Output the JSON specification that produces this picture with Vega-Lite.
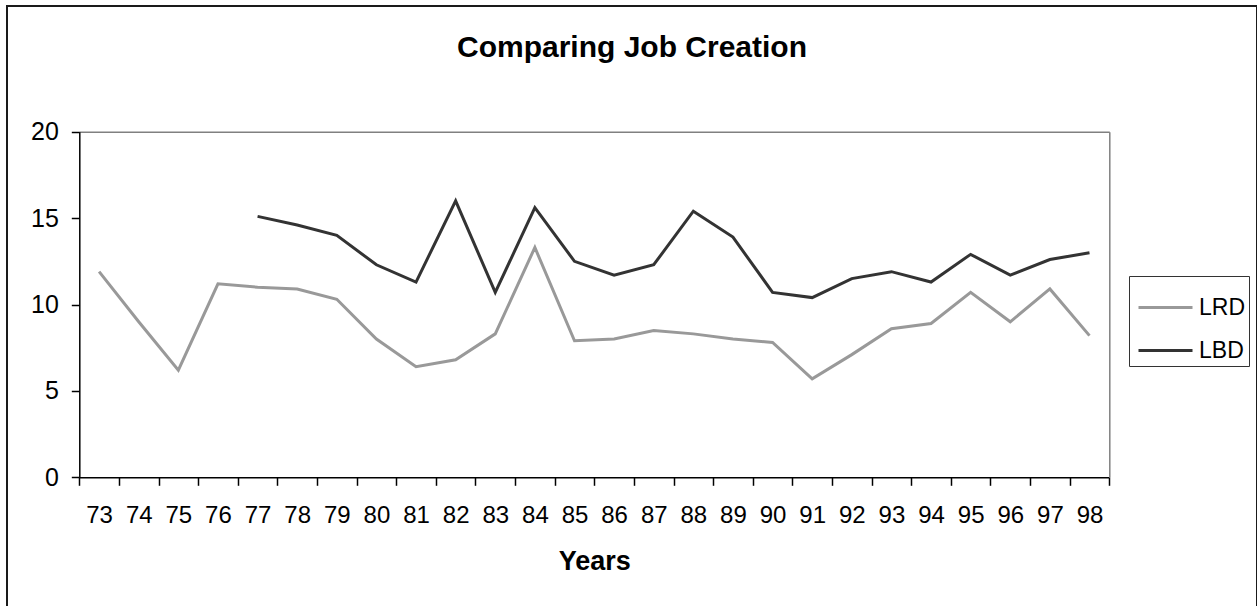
{
  "$schema": "https://vega.github.io/schema/vega-lite/v6.json",
  "autosize": "none",
  "padding": {"left": 7, "top": 6, "right": 0, "bottom": 0},
  "width": 1250,
  "height": 610,
  "background": "white",
  "title": {
    "text": "Comparing Job Creation",
    "font": "Liberation Sans",
    "fontSize": 30,
    "fontWeight": "bold",
    "color": "black",
    "anchor": "middle",
    "baseline": "alphabetic",
    "offset": -81
  },
  "data": {
    "values": [
      {"year": "73", "series": "LRD", "value": 11.9},
      {"year": "74", "series": "LRD", "value": 9.0},
      {"year": "75", "series": "LRD", "value": 6.2},
      {"year": "76", "series": "LRD", "value": 11.2},
      {"year": "77", "series": "LRD", "value": 11.0},
      {"year": "78", "series": "LRD", "value": 10.9},
      {"year": "79", "series": "LRD", "value": 10.3},
      {"year": "80", "series": "LRD", "value": 8.0},
      {"year": "81", "series": "LRD", "value": 6.4},
      {"year": "82", "series": "LRD", "value": 6.8},
      {"year": "83", "series": "LRD", "value": 8.3},
      {"year": "84", "series": "LRD", "value": 13.3},
      {"year": "85", "series": "LRD", "value": 7.9},
      {"year": "86", "series": "LRD", "value": 8.0},
      {"year": "87", "series": "LRD", "value": 8.5},
      {"year": "88", "series": "LRD", "value": 8.3},
      {"year": "89", "series": "LRD", "value": 8.0},
      {"year": "90", "series": "LRD", "value": 7.8},
      {"year": "91", "series": "LRD", "value": 5.7},
      {"year": "92", "series": "LRD", "value": 7.1},
      {"year": "93", "series": "LRD", "value": 8.6},
      {"year": "94", "series": "LRD", "value": 8.9},
      {"year": "95", "series": "LRD", "value": 10.7},
      {"year": "96", "series": "LRD", "value": 9.0},
      {"year": "97", "series": "LRD", "value": 10.9},
      {"year": "98", "series": "LRD", "value": 8.2},
      {"year": "77", "series": "LBD", "value": 15.1},
      {"year": "78", "series": "LBD", "value": 14.6},
      {"year": "79", "series": "LBD", "value": 14.0},
      {"year": "80", "series": "LBD", "value": 12.3},
      {"year": "81", "series": "LBD", "value": 11.3},
      {"year": "82", "series": "LBD", "value": 16.0},
      {"year": "83", "series": "LBD", "value": 10.7},
      {"year": "84", "series": "LBD", "value": 15.6},
      {"year": "85", "series": "LBD", "value": 12.5},
      {"year": "86", "series": "LBD", "value": 11.7},
      {"year": "87", "series": "LBD", "value": 12.3},
      {"year": "88", "series": "LBD", "value": 15.4},
      {"year": "89", "series": "LBD", "value": 13.9},
      {"year": "90", "series": "LBD", "value": 10.7},
      {"year": "91", "series": "LBD", "value": 10.4},
      {"year": "92", "series": "LBD", "value": 11.5},
      {"year": "93", "series": "LBD", "value": 11.9},
      {"year": "94", "series": "LBD", "value": 11.3},
      {"year": "95", "series": "LBD", "value": 12.9},
      {"year": "96", "series": "LBD", "value": 11.7},
      {"year": "97", "series": "LBD", "value": 12.6},
      {"year": "98", "series": "LBD", "value": 13.0}
    ]
  },
  "layer": [
    {
      "transform": [{"filter": "datum.series === 'LRD'"}],
      "mark": {"type": "line", "strokeWidth": 3},
      "encoding": {
        "x": {
          "field": "year",
          "type": "ordinal",
          "scale": {
            "type": "band",
            "domain": ["73","74","75","76","77","78","79","80","81","82","83","84","85","86","87","88","89","90","91","92","93","94","95","96","97","98"],
            "range": [72.3, 1102.3],
            "paddingInner": 0,
            "paddingOuter": 0
          },
          "axis": {
            "orient": "bottom",
            "offset": -138.7,
            "tickBand": "extent",
            "tickSize": 8,
            "tickWidth": 1.5,
            "tickColor": "black",
            "domainColor": "black",
            "domainWidth": 1.5,
            "labelAngle": 0,
            "labelFont": "Liberation Sans",
            "labelFontSize": 24,
            "labelColor": "black",
            "labelPadding": 18,
            "grid": false,
            "title": "Years",
            "titleFont": "Liberation Sans",
            "titleFontSize": 27,
            "titleFontWeight": "bold",
            "titleColor": "black",
            "titlePadding": 21
          }
        },
        "y": {
          "field": "value",
          "type": "quantitative",
          "scale": {"domain": [0, 20], "range": [471.3, 125.7], "nice": false},
          "axis": {
            "orient": "left",
            "offset": -72.3,
            "values": [0, 5, 10, 15, 20],
            "tickSize": 8,
            "tickWidth": 1.5,
            "tickColor": "black",
            "domainColor": "black",
            "domainWidth": 1.5,
            "labelFont": "Liberation Sans",
            "labelFontSize": 25,
            "labelColor": "black",
            "labelPadding": 13,
            "grid": false,
            "title": null
          }
        },
        "color": {
          "field": "series",
          "type": "nominal",
          "scale": {"domain": ["LRD", "LBD"], "range": ["#999999", "#333333"]},
          "legend": {
            "orient": "none",
            "legendX": 1122,
            "legendY": 270,
            "title": null,
            "symbolType": "stroke",
            "symbolSize": 2916,
            "symbolStrokeWidth": 3,
            "symbolOffset": 5,
            "labelFont": "Liberation Sans",
            "labelFontSize": 23,
            "labelColor": "black",
            "labelOffset": 5,
            "strokeColor": "#333333",
            "padding": 3
          }
        }
      }
    },
    {
      "transform": [{"filter": "datum.series === 'LBD'"}],
      "mark": {"type": "line", "strokeWidth": 3},
      "encoding": {
        "x": {
          "field": "year",
          "type": "ordinal",
          "axis": {
            "orient": "top",
            "offset": -125.7,
            "ticks": false,
            "labels": false,
            "grid": false,
            "domainColor": "#808080",
            "domainWidth": 1.5,
            "title": null
          }
        },
        "y": {
          "field": "value",
          "type": "quantitative",
          "axis": {
            "orient": "right",
            "offset": -147.7,
            "ticks": false,
            "labels": false,
            "grid": false,
            "domainColor": "#808080",
            "domainWidth": 1.5,
            "title": null
          }
        },
        "color": {"field": "series", "type": "nominal"}
      }
    }
  ],
  "resolve": {"axis": {"x": "independent", "y": "independent"}},
  "config": {
    "view": {"stroke": "#1a1a1a", "strokeWidth": 2}
  }
}
